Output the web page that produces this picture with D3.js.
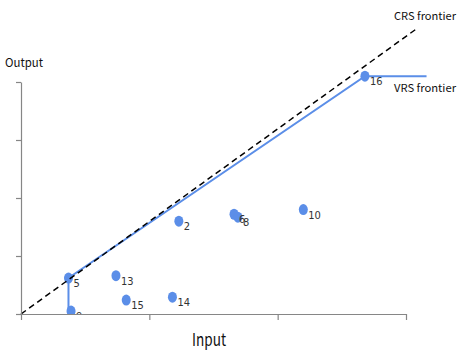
<!DOCTYPE html>
<html>
<head>
<meta charset="utf-8">
<script src="https://cdn.jsdelivr.net/npm/d3@7"></script>
<style>
  body { margin: 0; background: #fff; }
  svg { display: block; }
</style>
</head>
<body>
<script>
// DMU labels and their input / output values (arbitrary units)
var dmuLabels = ["5", "9", "13", "15", "14", "2", "6", "8", "10", "16"];
var inputVals = [0.37, 0.39, 0.74, 0.82, 1.18, 1.23, 1.66, 1.69, 2.2, 2.68];
var outputVals = [0.62, 0.05, 0.66, 0.24, 0.29, 1.6, 1.72, 1.67, 1.8, 4.1];

// frontiers
var crsFrontier = [[0, 0], [3.09, 4.93]];
var vrsFrontier = [[0.37, 0.05], [0.37, 0.62], [2.68, 4.1], [3.16, 4.1]];

var xTicks = [0, 1, 2, 3];
var yTicks = [0, 1, 2, 3, 4];

var W = 459, H = 353;
var svg = d3.select("body").append("svg").attr("width", W).attr("height", H);

var x = d3.scaleLinear().domain([0, 3]).range([21, 406]);
var y = d3.scaleLinear().domain([0, 4]).range([314, 82]);
var blue = "#5b8ee8";

// clip everything to above the x axis
svg.append("clipPath").attr("id", "plot")
  .append("rect").attr("x", 0).attr("y", 0).attr("width", W).attr("height", 314);

var plot = svg.append("g").attr("clip-path", "url(#plot)");

var line = d3.line().x(function (d) { return x(d[0]); }).y(function (d) { return y(d[1]); });

//axes
var yAxis = d3.axisLeft(y).tickValues(yTicks).tickSize(5).tickSizeOuter(0).tickFormat("");
var xAxis = d3.axisBottom(x).tickValues(xTicks).tickSize(6).tickSizeOuter(0).tickFormat("");

svg.append("g").attr("transform", "translate(21,0)").call(yAxis);
svg.append("g").attr("transform", "translate(0,314)").call(xAxis);
svg.selectAll(".domain, .tick line").attr("stroke", "#868686").attr("stroke-width", 1.2);

// VRS frontier
plot.append("path")
  .attr("d", line(vrsFrontier))
  .attr("fill", "none")
  .attr("stroke", blue)
  .attr("stroke-width", 2);

// points
var pts = d3.range(dmuLabels.length).map(function (i) {
  return { label: dmuLabels[i], x: inputVals[i], y: outputVals[i] };
});

plot.selectAll("ellipse")
  .data(pts)
  .enter()
  .append("ellipse")
  .attr("cx", function (d) { return x(d.x); })
  .attr("cy", function (d) { return y(d.y); })
  .attr("rx", 4.5)
  .attr("ry", 5.5)
  .attr("fill", blue);

// CRS frontier
plot.append("path")
  .attr("d", line(crsFrontier))
  .attr("fill", "none")
  .attr("stroke", "#000")
  .attr("stroke-width", 1.5)
  .attr("stroke-dasharray", "6,4");

plot.selectAll("text.lab")
  .data(pts)
  .enter()
  .append("text")
  .attr("class", "lab")
  .attr("x", function (d) { return x(d.x) + 5; })
  .attr("y", function (d) { return y(d.y) + 9; })
  .attr("font-family", "'Liberation Sans Narrow', 'DejaVu Sans Condensed', sans-serif")
  .attr("font-size", 11)
  .attr("fill", "#333")
  .text(function (d) { return d.label; });

var kfont = "'Noto Sans CJK KR', 'Noto Sans', sans-serif";
function label(txt, tx, ty, size, len) {
  svg.append("text").attr("x", tx).attr("y", ty)
    .attr("font-family", kfont).attr("font-size", size).attr("fill", "#111")
    .attr("textLength", len).attr("lengthAdjust", "spacingAndGlyphs")
    .text(txt);
}
label("Output", 5, 67, 12, 38);
label("Input", 192, 346, 17, 34);
label("CRS frontier", 394, 20, 11, 62);
label("VRS frontier", 394, 92, 11, 62);
</script>
</body>
</html>
